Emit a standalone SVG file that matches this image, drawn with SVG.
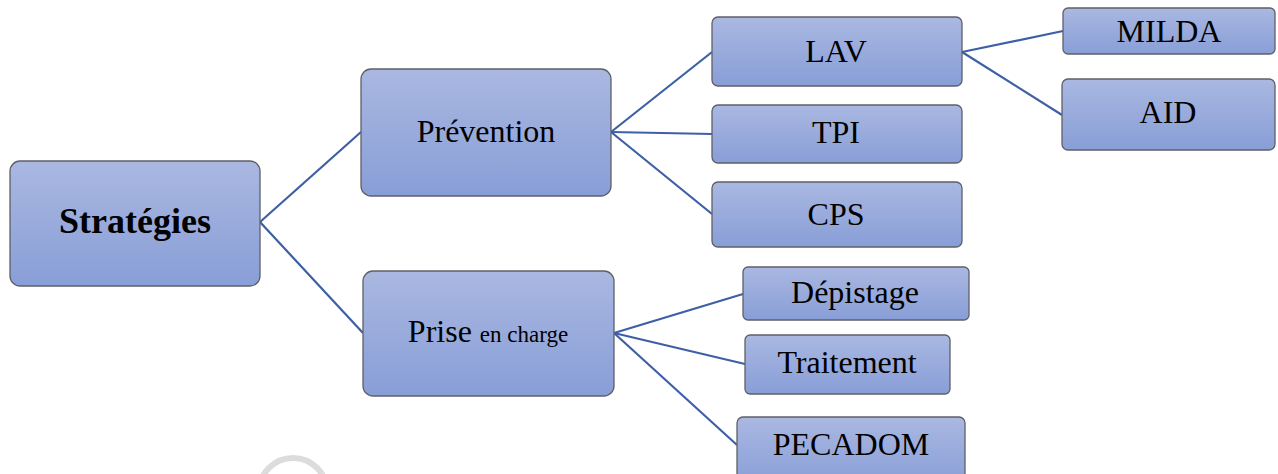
<svg xmlns="http://www.w3.org/2000/svg" width="1278" height="474" viewBox="0 0 1278 474">
<defs>
<linearGradient id="g" x1="0" y1="0" x2="0" y2="1">
<stop offset="0" stop-color="#aab8e1"/>
<stop offset="1" stop-color="#889ed7"/>
</linearGradient>
<style>
.box{fill:url(#g);stroke:#5f6067;stroke-width:1.3}
.t{font-family:"Liberation Serif","Times New Roman",serif;fill:#000;text-anchor:middle}
.c line{stroke:#3d5fa6;stroke-width:2.2}
</style>
</defs>
<rect width="1278" height="474" fill="#fff"/>
<circle cx="293" cy="492" r="34" fill="none" stroke="#dcdcdc" stroke-width="6"/>
<g class="c" id="connectors">
<line x1="260" y1="222" x2="361" y2="132"/>
<line x1="260" y1="222" x2="363" y2="333"/>
<line x1="611" y1="132" x2="712" y2="52"/>
<line x1="611" y1="132" x2="712" y2="134"/>
<line x1="611" y1="132" x2="712" y2="214"/>
<line x1="962" y1="52" x2="1063" y2="31"/>
<line x1="962" y1="52" x2="1062" y2="115"/>
<line x1="614" y1="333" x2="743" y2="294"/>
<line x1="614" y1="333" x2="745" y2="364"/>
<line x1="614" y1="333" x2="737" y2="445"/>
</g>
<g id="strategies"><rect class="box" x="10" y="161" width="250" height="125" rx="10"/><text class="t" x="135" y="233" font-size="36" font-weight="bold">Stratégies</text></g>
<g id="prevention"><rect class="box" x="361" y="69" width="250" height="127" rx="10"/><text class="t" x="486" y="142" font-size="32">Prévention</text></g>
<g id="prise"><rect class="box" x="363" y="271" width="251" height="125" rx="10"/><text class="t" x="488" y="342" font-size="32">Prise <tspan font-size="23">en charge</tspan></text></g>
<g id="lav"><rect class="box" x="712" y="17" width="250" height="69" rx="6"/><text class="t" x="836" y="62" font-size="32">LAV</text></g>
<g id="tpi"><rect class="box" x="712" y="105" width="250" height="58" rx="6"/><text class="t" x="836" y="143" font-size="32">TPI</text></g>
<g id="cps"><rect class="box" x="712" y="182" width="250" height="65" rx="6"/><text class="t" x="836" y="225" font-size="32">CPS</text></g>
<g id="milda"><rect class="box" x="1063" y="8" width="212" height="46" rx="5"/><text class="t" x="1169" y="42" font-size="32">MILDA</text></g>
<g id="aid"><rect class="box" x="1062" y="79" width="213" height="71" rx="6"/><text class="t" x="1168" y="123" font-size="32">AID</text></g>
<g id="depistage"><rect class="box" x="743" y="267" width="226" height="53" rx="5"/><text class="t" x="855" y="303" font-size="32">Dépistage</text></g>
<g id="traitement"><rect class="box" x="745" y="335" width="205" height="59" rx="5"/><text class="t" x="847" y="373" font-size="32">Traitement</text></g>
<g id="pecadom"><rect class="box" x="737" y="417" width="228" height="70" rx="6"/><text class="t" x="851" y="455" font-size="32">PECADOM</text></g>
</svg>
